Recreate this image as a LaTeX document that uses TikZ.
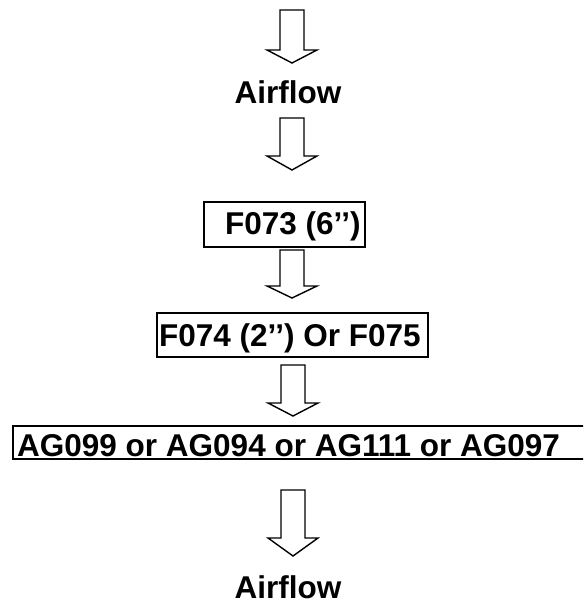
\documentclass[tikz,border=0pt]{standalone}
\usepackage{fontspec}
\setmainfont{Liberation Sans}
\begin{document}
\begin{tikzpicture}[x=1pt,y=-1pt,
  lbl/.style={inner sep=0pt,font=\fontsize{31.5}{36}\selectfont\bfseries},
  boxline/.style={draw=black,line width=1.6pt},
  flowarrow/.style={draw=black,line width=1.4pt,fill=white,line join=miter}]
\useasboundingbox (0,0) rectangle (583,604);
\clip (0,0) rectangle (583,604);
\newcommand{\flowarr}[4]{% x, top, headstart, tip
  \draw[flowarrow] (#1-12,#2) -- (#1+12,#2) -- (#1+12,#3) -- (#1+25,#3) -- (#1,#4) -- (#1-25,#3) -- (#1-12,#3) -- cycle;}
\flowarr{292}{10}{50}{63}
\node[lbl,anchor=base] (air1) at (288,104) {Airflow};
\flowarr{292}{118}{156}{170}
\node[boxline,minimum width=161pt,minimum height=45pt,inner sep=0pt] (b1) at (284.5,224.5) {};
\node[lbl,anchor=base west] (t1) at (225,234) {F073 (6’’)};
\flowarr{292}{250}{286}{298}
\node[boxline,minimum width=271pt,minimum height=44pt,inner sep=0pt] (b2) at (292.5,335) {};
\node[lbl,anchor=base west] (t2) at (159,346) {F074 (2’’) Or F075};
\flowarr{293}{365}{403}{416}
\draw[boxline] (13,426) rectangle (600,459);
\node[lbl,anchor=base west] (t3) at (17,456) {AG099 or AG094 or AG111 or AG097};
\flowarr{293}{490}{538}{556}
\node[lbl,anchor=base] (air2) at (288,598) {Airflow};
\end{tikzpicture}
\end{document}
